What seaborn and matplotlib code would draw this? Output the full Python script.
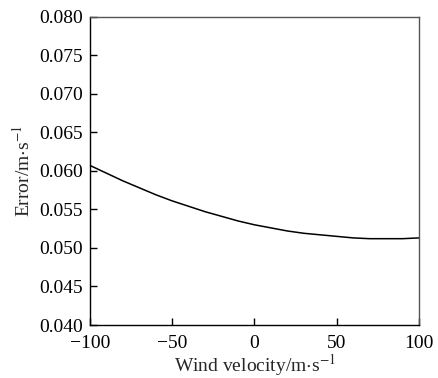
import matplotlib
matplotlib.use("Agg")
import matplotlib.pyplot as plt
import seaborn as sns
import pandas as pd

# values
wind_velocity = [-100, -90, -80, -70, -60, -50, -40, -30, -20, -10, 0,
                 10, 20, 30, 40, 50, 60, 70, 80, 90, 100]
error = [0.0607, 0.0597, 0.0587, 0.0578, 0.0569, 0.0561, 0.0554, 0.0547,
         0.0541, 0.0535, 0.0530, 0.0526, 0.0522, 0.0519, 0.0517, 0.0515,
         0.0513, 0.0512, 0.0512, 0.0512, 0.0513]
x_ticks = [-100, -50, 0, 50, 100]
y_ticks = [0.040, 0.045, 0.050, 0.055, 0.060, 0.065, 0.070, 0.075, 0.080]

sns.set_style("ticks", {'xtick.direction': 'in', 'ytick.direction': 'in'})
plt.rcParams['font.family'] = ['Liberation Serif', 'DejaVu Serif']
plt.rcParams['mathtext.fontset'] = 'stix'

df = pd.DataFrame({'v': wind_velocity, 'err': error})

fig = plt.figure(figsize=(4.38, 3.78), dpi=100)
ax = fig.add_axes([0.2055, 0.1402, 0.7511, 0.8156])
sns.lineplot(data=df, x='v', y='err', color='black', linewidth=1.1, ax=ax)

ax.set_xlim(-100, 100)
ax.set_ylim(0.040, 0.080)
ax.set_xticks(x_ticks)
ax.set_yticks(y_ticks)
ax.set_yticklabels([f'{t:.3f}' for t in y_ticks])
ax.tick_params(axis='both', direction='in', length=5, width=1, labelsize=14,
               colors='black', top=False, right=False)
ax.tick_params(axis='x', pad=7)
ax.tick_params(axis='y', pad=5)
for s in ax.spines.values():
    s.set_linewidth(1.0)
    s.set_color('black')
ax.spines['top'].set_color('#555555')
ax.spines['right'].set_color('#555555')

ax.set_xlabel('Wind velocity/m$\\cdot$s$^{-1}$', fontsize=14, labelpad=0)
ax.set_ylabel('Error/m$\\cdot$s$^{-1}$', fontsize=14, labelpad=4)

fig.savefig('out.png', dpi=100)
